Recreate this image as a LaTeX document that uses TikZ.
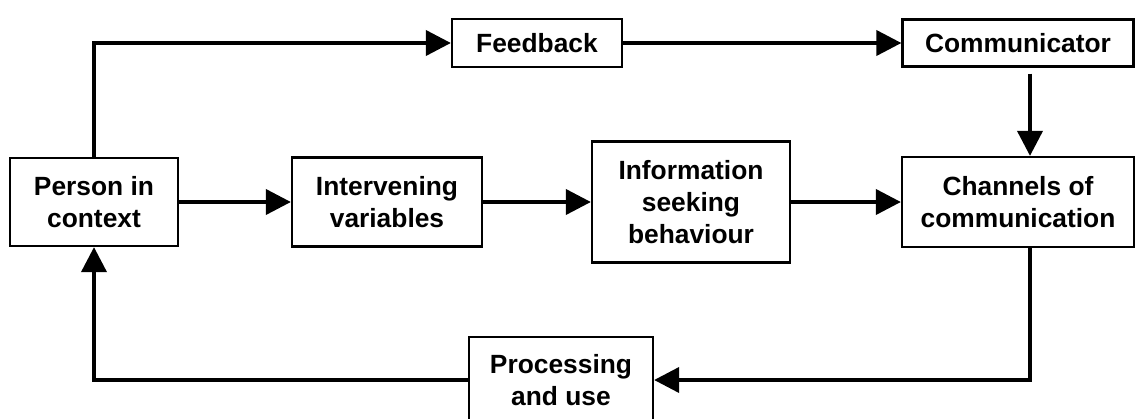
\documentclass[tikz,border=0pt]{standalone}
\usepackage{fontspec}
\setmainfont{Liberation Sans}
\usetikzlibrary{arrows.meta, positioning, calc}

\begin{document}
\begin{tikzpicture}[
    x=0.02cm, y=-0.02cm,
    stage/.style={rectangle, draw=black, line width=1.3pt, align=center,
                  inner sep=0pt, font=\bfseries\fontsize{15}{18.2}\selectfont},
    flow/.style={-{Triangle[length=0.5cm,width=0.5cm]}, line width=2.2pt}
]
    \useasboundingbox (0,0) rectangle (1136,419);

    % Main row
    \node[stage, minimum width=3.36cm, minimum height=1.76cm] (person) at (94,202) {Person in\\context};
    \node[stage, minimum width=3.8cm, minimum height=1.78cm] (interv) at (387,202) {Intervening\\variables};
    \node[stage, minimum width=3.96cm, minimum height=2.42cm] (info) at (691,202) {Information\\seeking\\behaviour};
    \node[stage, minimum width=4.64cm, minimum height=1.8cm] (chan) at (1018,202) {Channels of\\communication};

    % Top row
    \node[stage, minimum width=3.4cm, minimum height=0.96cm] (feedback) at (537,43) {Feedback};
    \node[stage, minimum width=4.62cm, minimum height=0.94cm] (commun) at (1018,43) {Communicator};

    % Bottom
    \node[stage, minimum width=3.68cm, minimum height=1.72cm] (proc) at (561,380) {Processing\\and use};

    % Arrows
    \draw[flow] (person.north) |- (feedback.west);
    \draw[flow] (feedback) -- (commun);
    \draw[flow] ($(commun.south)+(12,6)$) -- ($(chan.north)+(12,0)$);
    \draw[flow] (person) -- (interv);
    \draw[flow] (interv) -- (info);
    \draw[flow] (info) -- (chan);
    \draw[flow] ($(chan.south)+(12,0)$) |- (proc.east);
    \draw[flow] (proc.west) -| (person.south);
\end{tikzpicture}
\end{document}
